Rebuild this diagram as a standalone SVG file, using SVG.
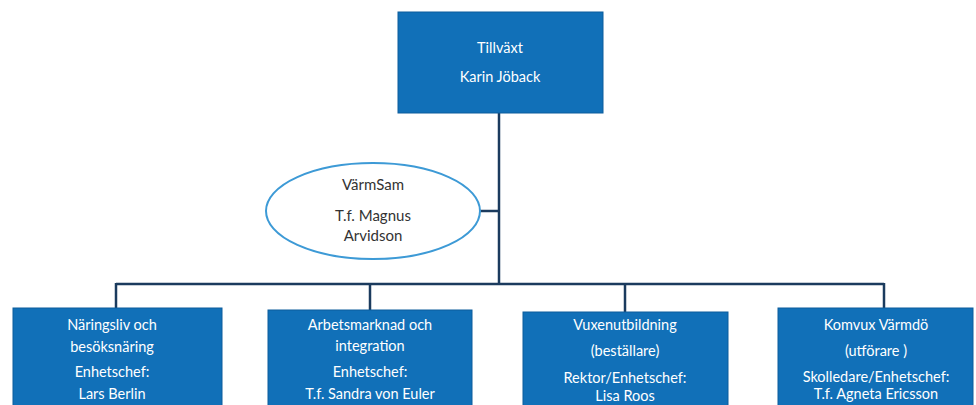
<svg xmlns="http://www.w3.org/2000/svg" width="976" height="405" viewBox="0 0 976 405">
<style>
.box{fill:#1170b8;stroke:#0d5d9c;stroke-width:1}
.t{font-family:Lato,"Open Sans",sans-serif;font-size:14.5px;fill:#ffffff;text-anchor:middle}
.e{font-family:Lato,"Open Sans",sans-serif;font-size:15px;fill:#333333;text-anchor:middle}
.c{stroke:#1b3b5e;stroke-width:2.5;fill:none}
</style>
<rect width="976" height="405" fill="#ffffff"/>
<g id="connectors">
<path class="c" d="M499 113 V284"/>
<path class="c" d="M480 211 H499"/>
<path class="c" d="M116 284 H884"/>
<path class="c" d="M116 283 V308"/>
<path class="c" d="M370 283 V310"/>
<path class="c" d="M625 283 V312"/>
<path class="c" d="M884 283 V308"/>
</g>
<g id="tillvaxt">
<rect class="box" x="398" y="12" width="205" height="101"/>
<text class="t" x="500" y="53">Tillväxt</text>
<text class="t" x="500" y="82">Karin Jöback</text>
</g>
<g id="varmsam">
<ellipse cx="373" cy="211" rx="107" ry="48" fill="#ffffff" stroke="#3d9ad6" stroke-width="2"/>
<text class="e" x="373" y="190">VärmSam</text>
<text class="e" x="373" y="221">T.f. Magnus</text>
<text class="e" x="373" y="241">Arvidson</text>
</g>
<g id="naringsliv">
<rect class="box" x="13" y="308" width="209" height="110"/>
<text class="t" x="112" y="330">Näringsliv och</text>
<text class="t" x="112" y="352">besöksnäring</text>
<text class="t" x="112" y="377">Enhetschef:</text>
<text class="t" x="112" y="399">Lars Berlin</text>
</g>
<g id="arbetsmarknad">
<rect class="box" x="268" y="310" width="204" height="110"/>
<text class="t" x="370" y="330">Arbetsmarknad och</text>
<text class="t" x="370" y="351">integration</text>
<text class="t" x="370" y="377">Enhetschef:</text>
<text class="t" x="370" y="399">T.f. Sandra von Euler</text>
</g>
<g id="vuxenutbildning">
<rect class="box" x="523" y="312" width="205" height="110"/>
<text class="t" x="625" y="330">Vuxenutbildning</text>
<text class="t" x="625" y="356">(beställare)</text>
<text class="t" x="625" y="383">Rektor/Enhetschef:</text>
<text class="t" x="625" y="401">Lisa Roos</text>
</g>
<g id="komvux">
<rect class="box" x="778" y="308" width="195" height="110"/>
<text class="t" x="876" y="330">Komvux Värmdö</text>
<text class="t" x="876" y="356">(utförare )</text>
<text class="t" x="876" y="382">Skolledare/Enhetschef:</text>
<text class="t" x="876" y="399">T.f. Agneta Ericsson</text>
</g>
</svg>
